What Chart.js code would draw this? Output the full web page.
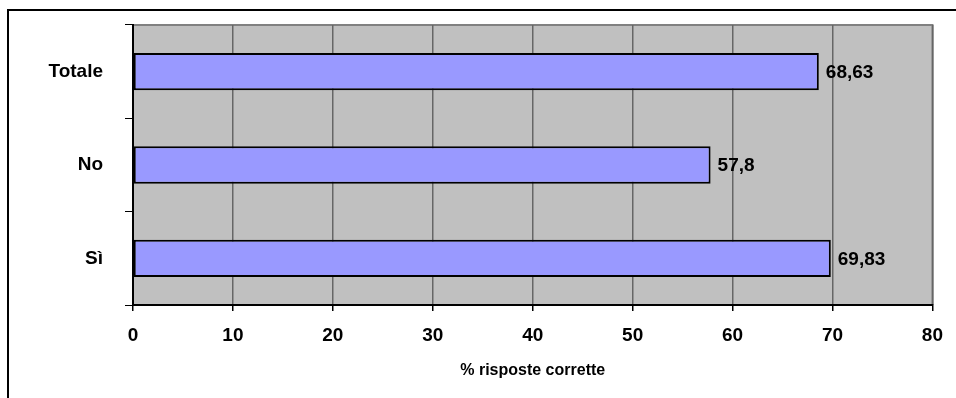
<!DOCTYPE html>
<html>
<head>
<meta charset="utf-8">
<script src="https://cdn.jsdelivr.net/npm/chart.js@4"></script>
<style>
  html, body { margin: 0; padding: 0; background: #ffffff; }
  #wrap { width: 956px; height: 398px; position: relative; }
</style>
</head>
<body>
<div id="wrap"><canvas id="c"></canvas></div>
<script>
// Risposte corrette per gruppo
const categories = ['Totale', 'No', 'Sì'];
const correctPct = [68.63, 57.8, 69.83];
const xTicks = [0, 10, 20, 30, 40, 50, 60, 70, 80];
const xTitle = '% risposte corrette';

const FONT = '"Liberation Sans", Arial, sans-serif';

// Gray plot background, gray top edge, and the outer frame lines
const frame = {
  id: 'frame',
  beforeDraw(chart) {
    const { ctx, chartArea: a } = chart;
    ctx.save();
    ctx.fillStyle = '#ffffff';
    ctx.fillRect(0, 0, chart.width, chart.height);
    ctx.fillStyle = '#c0c0c0';
    ctx.fillRect(a.left, a.top, a.right - a.left, a.bottom - a.top);
    ctx.strokeStyle = '#808080';
    ctx.lineWidth = 2;
    ctx.beginPath();
    ctx.moveTo(a.left, a.top);
    ctx.lineTo(a.right, a.top);
    ctx.lineTo(a.right, a.bottom);
    ctx.stroke();
    ctx.strokeStyle = '#000000';
    ctx.lineWidth = 2;
    ctx.beginPath();
    ctx.moveTo(8, chart.height + 5);
    ctx.lineTo(8, 10);
    ctx.lineTo(chart.width + 5, 10);
    ctx.stroke();
    ctx.restore();
  }
};

// Value labels to the right of each bar, with decimal comma
const valueLabels = {
  id: 'valueLabels',
  afterDatasetsDraw(chart) {
    const { ctx } = chart;
    const meta = chart.getDatasetMeta(0);
    const data = chart.data.datasets[0].data;
    ctx.save();
    ctx.font = 'bold 19px ' + FONT;
    ctx.fillStyle = '#000000';
    ctx.textAlign = 'left';
    ctx.textBaseline = 'middle';
    meta.data.forEach((bar, i) => {
      const txt = String(data[i]).replace('.', ',');
      ctx.fillText(txt, bar.x + 7, bar.y + 1);
    });
    ctx.restore();
  }
};

new Chart(document.getElementById('c'), {
  type: 'bar',
  data: {
    labels: categories,
    datasets: [{
      data: correctPct,
      backgroundColor: '#9999ff',
      borderColor: '#000000',
      borderWidth: 2,
      borderSkipped: false,
      barPercentage: 0.4,
      categoryPercentage: 1.0
    }]
  },
  options: {
    indexAxis: 'y',
    responsive: true,
    maintainAspectRatio: false,
    animation: false,
    layout: { padding: { top: 25, right: 23, left: 0, bottom: 0 } },
    plugins: {
      legend: { display: false },
      title: { display: false },
      tooltip: { enabled: false }
    },
    scales: {
      x: {
        type: 'linear',
        min: 0,
        max: 80,
        afterBuildTicks(scale) {
          scale.ticks = xTicks.map(v => ({ value: v }));
        },
        afterFit(scale) { scale.height = 93; },
        grid: {
          color: '#666666',
          lineWidth: 1.5,
          drawTicks: true,
          tickLength: 6,
          tickColor: '#000000'
        },
        border: { display: true, color: '#000000', width: 2 },
        ticks: {
          color: '#000000',
          font: { family: FONT, size: 19, weight: 'bold' },
          padding: 13,
          maxRotation: 0
        },
        title: {
          display: true,
          text: xTitle,
          color: '#000000',
          font: { family: FONT, size: 16, weight: 'bold' },
          padding: { top: 0, bottom: 18 }
        }
      },
      y: {
        afterFit(scale) {
          scale.width = 133;
          scale.paddingTop = 0;
          scale.paddingBottom = 0;
        },
        grid: {
          offset: true,
          drawOnChartArea: false,
          drawTicks: true,
          tickLength: 8,
          color: '#000000',
          lineWidth: 1
        },
        border: { display: true, color: '#000000', width: 2 },
        ticks: {
          color: '#000000',
          font: { family: FONT, size: 19, weight: 'bold' },
          padding: 22
        }
      }
    }
  },
  plugins: [frame, valueLabels]
});
</script>
</body>
</html>
